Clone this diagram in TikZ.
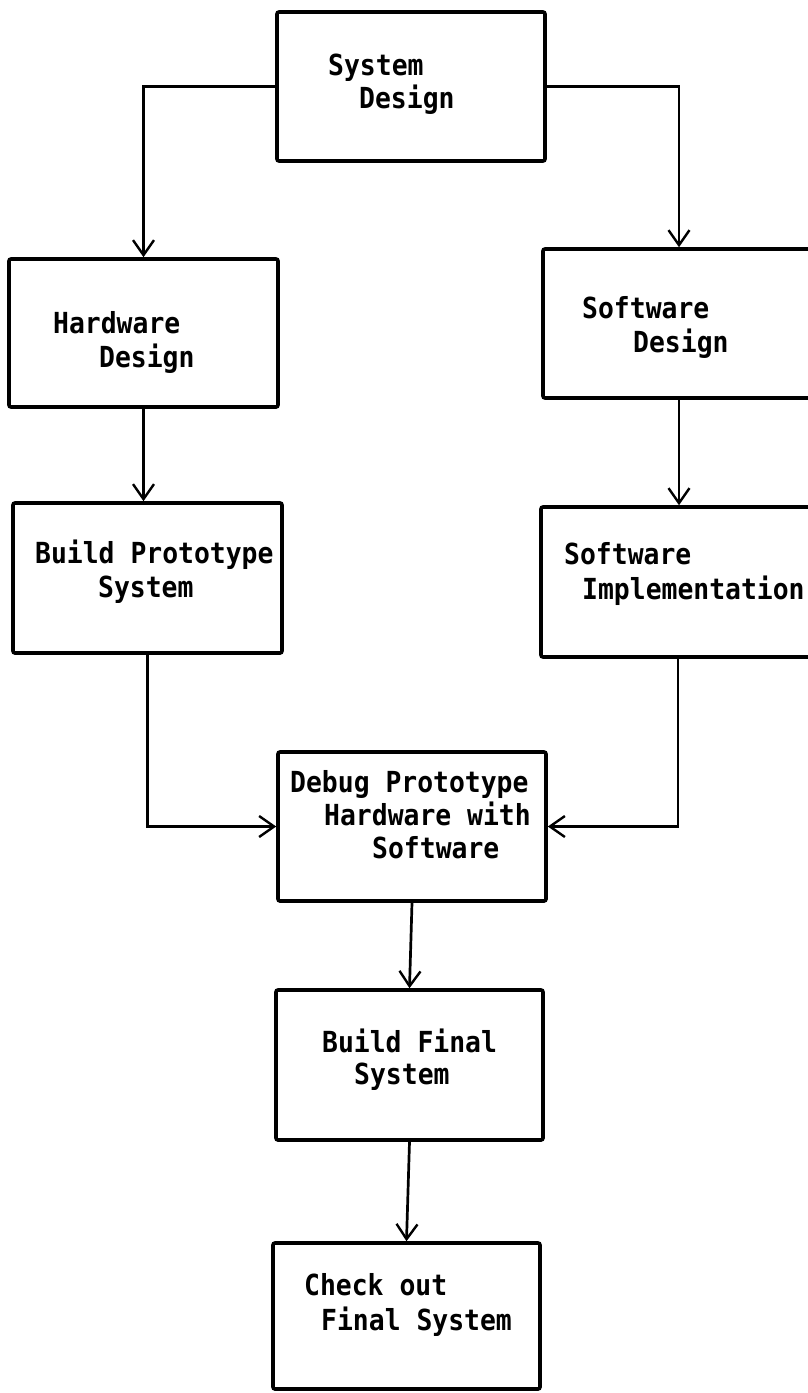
\documentclass[tikz,border=0pt]{standalone}
\usepackage{fontspec}
\newfontfamily\twfont{DejaVu Sans Mono}[FakeStretch=0.91]
\usetikzlibrary{arrows.meta}
\tikzset{
  box/.style={draw, line width=3.6pt, rounded corners=2pt, inner sep=0pt, rectangle},
  conn/.style={line width=2.7pt, -{Straight Barb[length=15pt,width=21pt,line width=2.4pt]}},
  txt/.style={anchor=base west, inner sep=0pt, font=\twfont\bfseries\fontsize{29}{33}\selectfont}
}
\begin{document}
\begin{tikzpicture}[x=1pt,y=-1pt]
\useasboundingbox (0,0) rectangle (808,1393);
% boxes
\node[box, minimum width=268pt, minimum height=149pt] (sys) at (411,86.5) {};
\node[box, minimum width=269pt, minimum height=148pt] (hw)  at (143.5,333) {};
\node[box, minimum width=272pt, minimum height=149pt] (sw)  at (679,323.5) {};
\node[box, minimum width=269pt, minimum height=150pt] (bp)  at (147.5,578) {};
\node[box, minimum width=274pt, minimum height=150pt] (si)  at (678,582) {};
\node[box, minimum width=268pt, minimum height=149pt] (dbg) at (412,826.5) {};
\node[box, minimum width=267pt, minimum height=150pt] (bf)  at (409.5,1065) {};
\node[box, minimum width=267pt, minimum height=146pt] (co)  at (406.5,1316) {};
% texts
\node[txt] (t1a) at (328,75) {System};
\node[txt] (t1b) at (359,108) {Design};
\node[txt] (t2a) at (53,333) {Hardware};
\node[txt] (t2b) at (99,367) {Design};
\node[txt] (t3a) at (582,318) {Software};
\node[txt] (t3b) at (633,352) {Design};
\node[txt] (t4a) at (35,563) {Build Prototype};
\node[txt] (t4b) at (98,597) {System};
\node[txt] (t5a) at (564,564) {Software};
\node[txt] (t5b) at (582,599) {Implementation};
\node[txt] (t6a) at (290,792) {Debug Prototype};
\node[txt] (t6b) at (324,825) {Hardware with};
\node[txt] (t6c) at (372,858) {Software};
\node[txt] (t7a) at (322,1052) {Build Final};
\node[txt] (t7b) at (354,1084) {System};
\node[txt] (t8a) at (304,1295) {Check out};
\node[txt] (t8b) at (321,1330) {Final System};
% connectors
\draw[conn] (sys.west) -| (hw.north);
\draw[conn] (sys.east) -| (sw.north);
\draw[conn] (hw.south) -- (hw.south |- bp.north);
\draw[conn] (sw.south) -- (sw.south |- si.north);
\draw[conn] (bp.south) |- (dbg.west);
\draw[conn] (si.south) |- (dbg.east);
\draw[conn] (dbg.south) -- (bf.north);
\draw[conn] (bf.south) -- (co.north);
\end{tikzpicture}
\end{document}
